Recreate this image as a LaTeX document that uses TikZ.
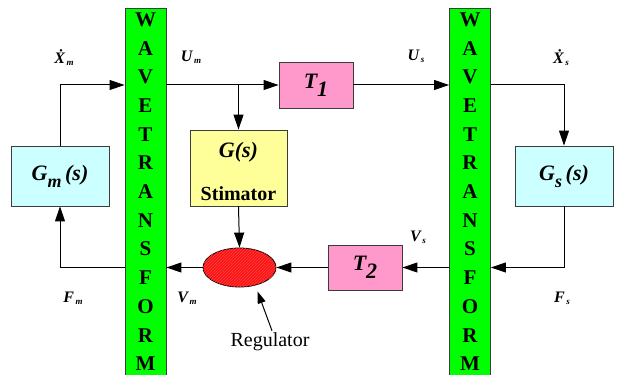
\documentclass[tikz,border=0pt]{standalone}
\usepackage{fontspec}
\setmainfont{Liberation Serif}
\usetikzlibrary{positioning,arrows.meta,shapes.geometric,calc,patterns}
\definecolor{wavegreen}{RGB}{0,255,0}
\definecolor{plantcyan}{RGB}{204,255,255}
\definecolor{delaypink}{RGB}{255,153,204}
\definecolor{stimyellow}{RGB}{255,255,153}
\definecolor{regred}{RGB}{250,20,20}
\definecolor{edgegray}{RGB}{60,60,60}
\newcommand{\sigsub}[2]{#1\kern1.5pt\raisebox{-2pt}{\fontsize{9}{9}\selectfont #2}}
\tikzset{
  block-node/.style={draw=edgegray, line width=0.9pt, inner sep=0pt, align=center,
    font=\fontsize{22}{22}\selectfont\bfseries\itshape},
  wave-bar/.style={draw=edgegray, line width=0.9pt, fill=wavegreen,
    minimum width=41pt, minimum height=380pt, inner sep=0pt},
  wave-letter/.style={font=\fontsize{21}{21}\selectfont\bfseries, inner sep=0pt},
  regulator-node/.style={ellipse, draw=black, line width=0.8pt, fill=regred,
    postaction={pattern=north east lines, pattern color=red!75!white},
    minimum width=73pt, minimum height=39pt, inner sep=0pt},
  flow-arrow/.style={-{Triangle[length=15pt,width=10pt]}, line width=1pt},
  pointer-arrow/.style={-{Triangle[length=12pt,width=8pt]}, line width=1pt},
  signal-label/.style={inner sep=0pt, font=\fontsize{16}{16}\selectfont\bfseries\itshape},
  caption-text/.style={inner sep=0pt, font=\fontsize{20}{20}\selectfont}
}
\begin{document}
\begin{tikzpicture}[x=1pt, y=-1pt]
\useasboundingbox (0,0) rectangle (617,374);
\clip (0,0) rectangle (617,374);
\fill[white] (0,0) rectangle (617,374);

% Wave transform bars
\node[wave-bar] (wavel) at (145.5,198) {};
\node[wave-bar] (waver) at (470,198) {};
\foreach \bx in {145.5,470}
  \foreach \ch [count=\i from 0] in {W,A,V,E,T,R,A,N,S,F,O,R,M}
    \node[wave-letter] (letter-\bx-\i) at (\bx,19.5+28.7*\i) {\ch};

% Master and slave plants
\node[block-node, fill=plantcyan, minimum width=98pt, minimum height=60pt] (gm) at (60,176)
  {G\raisebox{-7pt}{\fontsize{18}{18}\selectfont m}\,(s)};
\node[block-node, fill=plantcyan, minimum width=98pt, minimum height=60pt] (gs) at (564,176)
  {G\raisebox{-7pt}{\fontsize{18}{18}\selectfont s}\,(s)};

% Delays
\node[block-node, fill=delaypink, minimum width=74pt, minimum height=46pt] (t1) at (316,85)
  {T\raisebox{-8pt}{1}};
\node[block-node, fill=delaypink, minimum width=74pt, minimum height=45pt] (t2) at (365,267.5)
  {T\raisebox{-8pt}{2}};

% Estimator and regulator
\node[block-node, fill=stimyellow, minimum width=97pt, minimum height=76pt] (stim) at (238.5,168) {};
\node[block-node, draw=none] (stim-tf) at (238.5,152) {G(s)};
\node[inner sep=0pt, font=\fontsize{20}{20}\selectfont\bfseries] (stim-name) at (238.5,194) {Stimator};
\node[regulator-node] (reg) at (239.5,267.5) {};
\node[caption-text] (reg-label) at (270,342) {Regulator};

% Forward path
\draw[flow-arrow] (gm.north) |- (t1 -| wavel.west);
\draw[flow-arrow] (t1 -| wavel.east) -- (t1.west);
\draw[flow-arrow] (t1 -| stim.north) -- (stim.north);
\draw[flow-arrow] (t1.east) -- (t1 -| waver.west);
\draw[flow-arrow] (t1 -| waver.east) -| (gs.north);

% Return path
\draw[flow-arrow] (gs.south) |- (t2 -| waver.east);
\draw[flow-arrow] (t2 -| waver.west) -- (t2.east);
\draw[flow-arrow] (t2.west) -- (reg.east);
\draw[flow-arrow] (reg.west) -- (reg -| wavel.east);
\draw[flow-arrow] (reg -| wavel.west) -| (gm.south);
\draw[flow-arrow] (stim.south) -- (reg.north);
\draw[pointer-arrow] ([xshift=2pt,yshift=2pt]reg-label.north) -- ([xshift=18pt,yshift=-4pt]reg.south);

% Signal labels
\node[signal-label] (xm) at (64,58) {\sigsub{\.{X}}{m}};
\node[signal-label] (um) at (191,57) {\sigsub{U}{m}};
\node[signal-label] (us) at (416,56) {\sigsub{U}{s}};
\node[signal-label] (xs) at (561,58) {\sigsub{\.{X}}{s}};
\node[signal-label] (fm) at (73,298) {\sigsub{F}{m}};
\node[signal-label] (vm) at (187,298) {\sigsub{V}{m}};
\node[signal-label] (vs) at (418,237) {\sigsub{V}{s}};
\node[signal-label] (fs) at (562,298) {\sigsub{F}{s}};
\end{tikzpicture}
\end{document}
